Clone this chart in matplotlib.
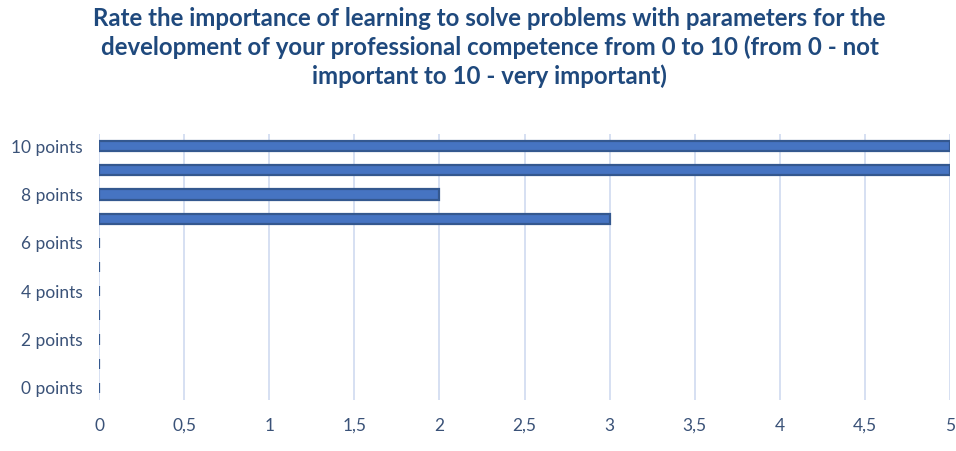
import matplotlib
matplotlib.use('Agg')
import matplotlib.pyplot as plt
import numpy as np

plt.rcParams['font.family'] = ['Lato', 'DejaVu Sans']

TITLE = ("Rate the importance of learning to solve problems with parameters for the\n"
         "development of your professional competence from 0 to 10 (from 0 - not\n"
         "important to 10 - very important)")
CATEGORIES = ['0 points', '1 points', '2 points', '3 points', '4 points', '5 points',
              '6 points', '7 points', '8 points', '9 points', '10 points']
VALUES = [0, 0, 0, 0, 0, 0, 0, 3, 2, 5, 5]
XTICKS = [0, 0.5, 1, 1.5, 2, 2.5, 3, 3.5, 4, 4.5, 5]
XTICK_LABELS = ['0', '0,5', '1', '1,5', '2', '2,5', '3', '3,5', '4', '4,5', '5']

TEXT_COL = '#3A5278'
TITLE_COL = '#1F497D'
BAR_COL = '#4674C2'
EDGE_COL = '#34588F'
GRID_COL = '#D6E0F2'

fig = plt.figure(figsize=(9.56, 4.51), dpi=100)
ax = fig.add_axes([0.1036, 0.1131, 0.8901, 0.5898])

y = np.arange(len(CATEGORIES))
ax.barh(y, VALUES, height=0.42, color=BAR_COL, edgecolor=EDGE_COL, linewidth=1.6, zorder=3)

ax.set_xlim(0, 5)
ax.set_ylim(-0.5, len(CATEGORIES) - 0.5)
ax.set_xticks(XTICKS)
ax.set_xticklabels(XTICK_LABELS)
ax.set_yticks(y[::2])
ax.set_yticklabels(CATEGORIES[::2])
ax.tick_params(axis='both', length=0, labelsize=12.5, colors=TEXT_COL)
ax.tick_params(axis='x', pad=13)
ax.tick_params(axis='y', pad=12)

for x in XTICKS:
    ax.axvline(x, color=GRID_COL, linewidth=1.4, zorder=1)
for s in ax.spines.values():
    s.set_visible(False)

fig.text(0.512, 0.984, TITLE, ha='center', va='top', fontsize=17.3, fontweight='bold',
         color=TITLE_COL, linespacing=1.28)

fig.savefig('out.png', dpi=100)
